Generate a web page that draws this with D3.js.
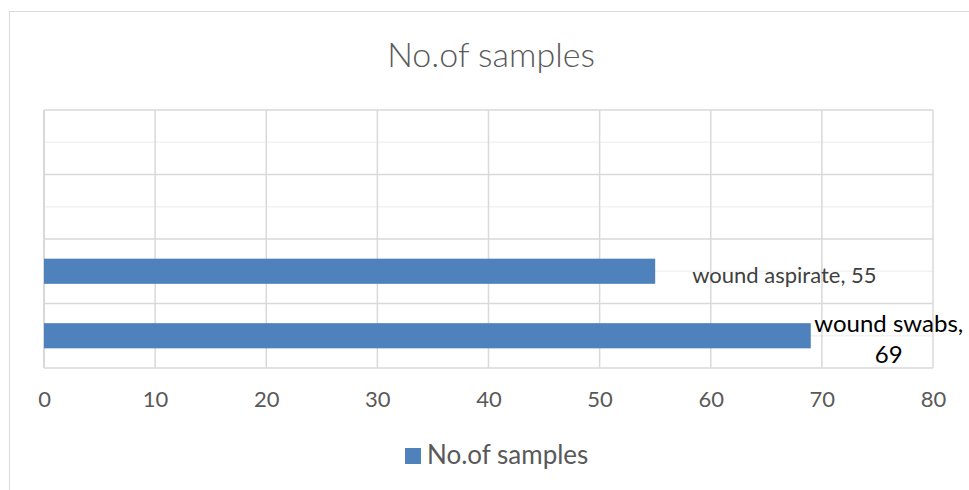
<!DOCTYPE html>
<html>
<head>
<meta charset="utf-8">
<script src="https://cdn.jsdelivr.net/npm/d3@7/dist/d3.min.js"></script>
<style>
  html, body { margin: 0; padding: 0; background: #fff; }
  svg { display: block; font-family: Lato, "Open Sans", sans-serif; }
</style>
</head>
<body>
<svg id="chart" width="969" height="490"></svg>
<script>
// Categories run bottom-to-top, as on a horizontal bar chart's category axis.
const categories = ["wound swabs", "wound aspirate", "", ""];
const sampleCounts = [69, 55, null, null];
const seriesName = "No.of samples";
const xTickValues = [0, 10, 20, 30, 40, 50, 60, 70, 80];

const svg = d3.select("#chart");
const W = 969, H = 490;

// outer chart frame
svg.append("rect")
  .attr("x", 9.5).attr("y", 11.5)
  .attr("width", W + 10).attr("height", H + 10)
  .attr("fill", "#fff").attr("stroke", "#d9d9d9").attr("stroke-width", 1);

const plot = { left: 44, right: 933, top: 110, bottom: 368 };

const x = d3.scaleLinear().domain([0, 80]).range([plot.left, plot.right]);
const y = d3.scaleBand()
  .domain(d3.range(categories.length))
  .range([plot.bottom, plot.top])
  .paddingInner(0.61).paddingOuter(0.305);

const band = d3.scaleBand().domain(d3.range(categories.length)).range([plot.bottom, plot.top]);

// title
svg.append("text")
  .attr("x", 491).attr("y", 67)
  .attr("text-anchor", "middle")
  .attr("font-size", 34).attr("font-weight", 300).attr("fill", "#595959")
  .text(seriesName);

const g = svg.append("g");

// minor horizontal gridlines at category centres
g.selectAll("line.minor").data(d3.range(categories.length)).join("line")
  .attr("class", "minor")
  .attr("x1", plot.left).attr("x2", plot.right)
  .attr("y1", d => band(d) + band.bandwidth() / 2)
  .attr("y2", d => band(d) + band.bandwidth() / 2)
  .attr("stroke", "#f2f2f2").attr("stroke-width", 1.5);

// major horizontal gridlines at category boundaries
const bounds = d3.range(categories.length + 1).map(i => plot.bottom - i * band.bandwidth());
g.selectAll("line.major").data(bounds).join("line")
  .attr("class", "major")
  .attr("x1", plot.left).attr("x2", plot.right)
  .attr("y1", d => d).attr("y2", d => d)
  .attr("stroke", "#d9d9d9").attr("stroke-width", 1.5);

// vertical value gridlines
g.selectAll("line.vgrid").data(xTickValues).join("line")
  .attr("class", "vgrid")
  .attr("x1", d => x(d)).attr("x2", d => x(d))
  .attr("y1", plot.top).attr("y2", plot.bottom)
  .attr("stroke", "#d9d9d9").attr("stroke-width", d => d === 0 ? 2 : 1.5);

// bars
const rows = categories.map((c, i) => ({ i, name: c, value: sampleCounts[i] }))
  .filter(d => d.value != null);

g.selectAll("rect.bar").data(rows).join("rect")
  .attr("class", "bar")
  .attr("x", x(0))
  .attr("y", d => y(d.i))
  .attr("width", d => x(d.value) - x(0))
  .attr("height", y.bandwidth())
  .attr("fill", "#4f81bd");

// x axis tick labels
const xAxis = d3.axisBottom(x).tickValues(xTickValues).tickSize(0).tickPadding(0);
const ax = svg.append("g").attr("transform", `translate(0,${plot.bottom})`).call(xAxis);
ax.select(".domain").remove();
ax.selectAll("text")
  .attr("font-family", "Lato, 'Open Sans', sans-serif")
  .attr("font-size", 22).attr("fill", "#595959")
  .attr("dy", 0).attr("y", 39);

// data labels ("category, value")
const labelStyle = {
  "wound aspirate": { dx: 37, lines: d => [`${d.name}, ${d.value}`], size: 22, color: "#404040", anchor: "start", dy: [12] },
  "wound swabs": { dx: 78, lines: d => [`${d.name},`, `${d.value}`], size: 24, color: "#000", anchor: "middle", dy: [-4, 27] }
};
rows.forEach(d => {
  const s = labelStyle[d.name];
  const cy = y(d.i) + y.bandwidth() / 2;
  const t = svg.append("text")
    .attr("font-size", s.size).attr("fill", s.color)
    .attr("text-anchor", s.anchor);
  s.lines(d).forEach((line, k) => {
    t.append("tspan").attr("x", x(d.value) + s.dx).attr("y", cy + s.dy[k]).text(line);
  });
});

// legend
const lg = svg.append("g").attr("transform", "translate(405,448)");
lg.append("rect").attr("width", 16).attr("height", 16).attr("fill", "#4f81bd");
lg.append("text").attr("x", 22).attr("y", 16)
  .attr("font-size", 26).attr("fill", "#595959").text(seriesName);
</script>
</body>
</html>
